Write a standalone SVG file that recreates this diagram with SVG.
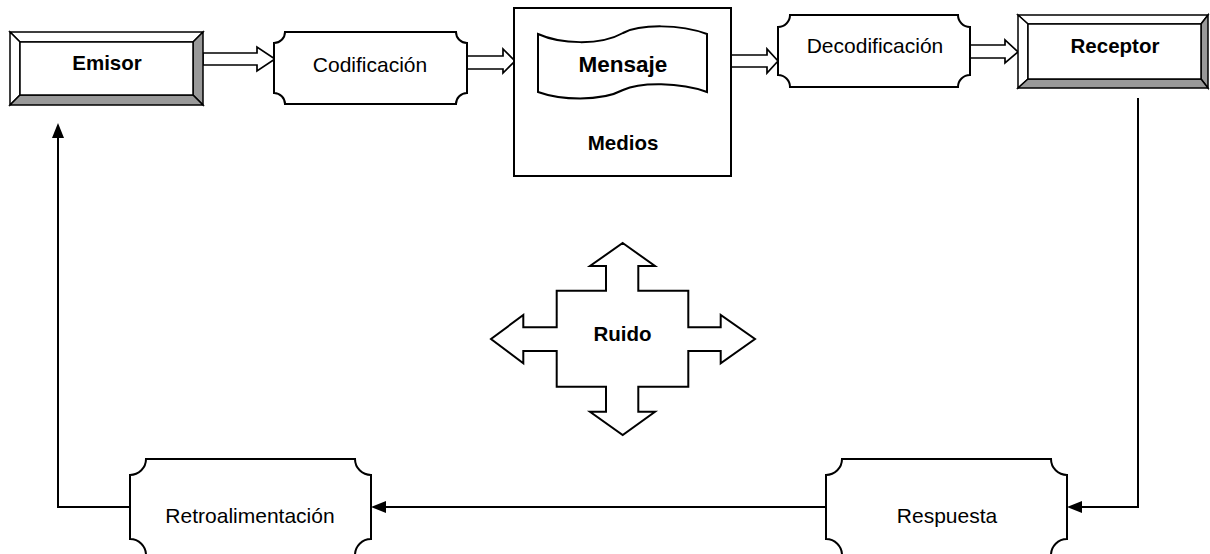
<svg xmlns="http://www.w3.org/2000/svg" width="1210" height="554" viewBox="0 0 1210 554">
<style>
.ln{fill:none;stroke:#000;stroke-width:2}
.bx{fill:#fff;stroke:#000;stroke-width:2}
.ba{fill:#fff;stroke:#000;stroke-width:1.7}
.bv{stroke:#000;stroke-width:1.5;stroke-linejoin:miter}
.lt{fill:#fff}
.dk{fill:#999}
.t{font-family:"Liberation Sans",Arial,sans-serif;font-size:21px;fill:#000;text-anchor:middle}
.b{font-weight:bold;font-size:20.5px}
</style>
<defs>
<marker id="ah" markerUnits="userSpaceOnUse" markerWidth="16" markerHeight="14" refX="0" refY="6" orient="auto" viewBox="0 0 16 12">
<path d="M0,0 L15,6 L0,12 Z" fill="#000"/>
</marker>
</defs>
<rect width="1210" height="554" fill="#fff"/>

<g id="connectors">
<polygon class="ba" points="203,53 257,53 257,47 275,59 257,71 257,65 203,65"/>
<polygon class="ba" points="467,56 503,56 503,49 515,61 503,73 503,69 467,69"/>
<polygon class="ba" points="731,55 767,55 767,49 778,61 767,73 767,67 731,67"/>
<polygon class="ba" points="970,45 1005,45 1005,40 1018,52 1005,63 1005,58 970,58"/>
<path class="ln" d="M1138,98 L1138,507 L1082,507" marker-end="url(#ah)"/>
<path class="ln" d="M826,507 L386,507" marker-end="url(#ah)"/>
<path class="ln" d="M130,507 L58,507 L58,138" marker-end="url(#ah)"/>
</g>

<g id="emisor">
<polygon class="bv lt" points="10,32 203,32 193,42 20,42"/>
<polygon class="bv lt" points="10,32 20,42 20,95 10,105"/>
<polygon class="bv dk" points="203,32 203,105 193,95 193,42"/>
<polygon class="bv dk" points="10,105 203,105 193,95 20,95"/>
<rect class="bv" x="20" y="42" width="173" height="53" fill="#fff"/>
<text class="t b" x="107" y="70">Emisor</text>
</g>

<g id="codificacion">
<path class="bx" d="M285,32 L456,32 A11,11 0 0 0 467,43 L467,93 A11,11 0 0 0 456,104 L285,104 A11,11 0 0 0 274,93 L274,43 A11,11 0 0 0 285,32 Z"/>
<text class="t" x="370" y="71.5">Codificación</text>
</g>

<g id="medios">
<rect class="bx" x="514" y="8" width="217" height="168"/>
<text class="t b" x="623" y="150">Medios</text>
</g>

<g id="mensaje">
<path class="bx" d="M538,34 C560,44 600,46 623,33 C640,24 680,24 707,34 L707,92 C680,82 640,82 623,90 C600,102 560,100 538,92 Z"/>
<text class="t b" x="623" y="71.5" style="font-size:22.5px">Mensaje</text>
</g>

<g id="decodificacion">
<path class="bx" d="M790,15 L958,15 A12,12 0 0 0 970,27 L970,75 A12,12 0 0 0 958,87 L790,87 A12,12 0 0 0 778,75 L778,27 A12,12 0 0 0 790,15 Z"/>
<text class="t" x="875" y="52.5">Decodificación</text>
</g>

<g id="receptor">
<polygon class="bv lt" points="1018,15 1208,15 1201,24 1028,24"/>
<polygon class="bv lt" points="1018,15 1028,24 1028,79 1018,88"/>
<polygon class="bv dk" points="1208,15 1208,88 1201,79 1201,24"/>
<polygon class="bv dk" points="1018,88 1208,88 1201,79 1028,79"/>
<rect class="bv" x="1028" y="24" width="173" height="55" fill="#fff"/>
<text class="t b" x="1115" y="53">Receptor</text>
</g>

<g id="ruido">
<polygon class="bx" points="622.7,243 655,266 638.3,266 638.3,290.7 688.3,290.7 688.3,327.3 720.7,327.3 720.7,315 755,339 720.7,363.3 720.7,351 688.3,351 688.3,386.7 638.3,386.7 638.3,411.7 655,411.7 622.7,435 590,411.7 606,411.7 606,386.7 556.7,386.7 556.7,351 523.3,351 523.3,363.3 491,339 523.3,315 523.3,327.3 556.7,327.3 556.7,290.7 606,290.7 606,266 590,266"/>
<text class="t b" x="622.5" y="341">Ruido</text>
</g>

<g id="retroalimentacion">
<path class="bx" d="M146,459 L355,459 A16,16 0 0 0 371,475 L371,539 A16,16 0 0 0 355,555 L146,555 A16,16 0 0 0 130,539 L130,475 A16,16 0 0 0 146,459 Z"/>
<text class="t" x="250" y="523">Retroalimentación</text>
</g>

<g id="respuesta">
<path class="bx" d="M842,459 L1051,459 A16,16 0 0 0 1067,475 L1067,539 A16,16 0 0 0 1051,555 L842,555 A16,16 0 0 0 826,539 L826,475 A16,16 0 0 0 842,459 Z"/>
<text class="t" x="947" y="523">Respuesta</text>
</g>
</svg>
